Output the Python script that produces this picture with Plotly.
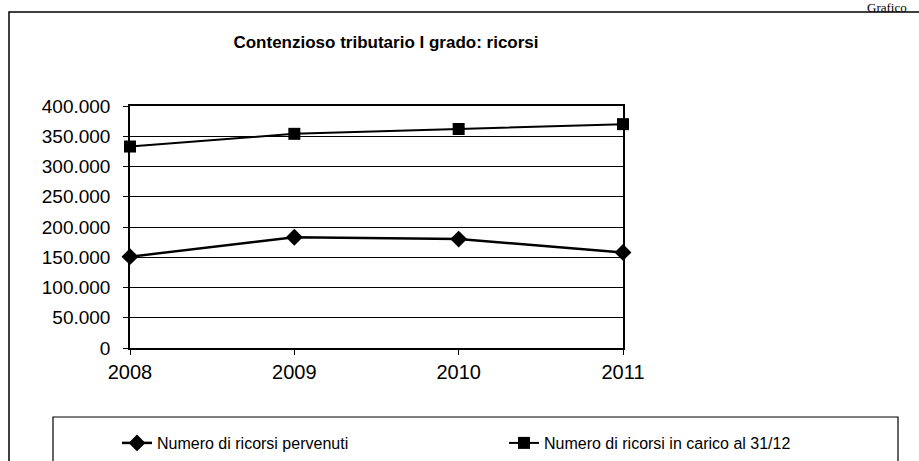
import plotly.graph_objects as go

years = ["2008", "2009", "2010", "2011"]
pervenuti = [151000, 183000, 180000, 158000]
in_carico = [333000, 354000, 362000, 370000]
series_names = ["Numero di ricorsi pervenuti", "Numero di ricorsi in carico al 31/12"]
title_text = "Contenzioso tributario I grado: ricorsi"

W, H = 919, 461
L, R, T, B = 130, 623, 106, 348

def px_x(p):
    return (p - L) / (R - L)

def px_y(p):
    return (B - p) / (B - T)

FONT = "Liberation Sans, Arial, sans-serif"

fig = go.Figure()
fig.add_trace(go.Scatter(
    x=years, y=pervenuti, name=series_names[0], mode="lines+markers",
    line=dict(color="black", width=2.5),
    marker=dict(symbol="diamond", size=13, color="black"),
    cliponaxis=False, legend="legend",
))
fig.add_trace(go.Scatter(
    x=years, y=in_carico, name=series_names[1], mode="lines+markers",
    line=dict(color="black", width=2),
    marker=dict(symbol="square", size=12, color="black"),
    cliponaxis=False, legend="legend2",
))

shapes = [
    dict(type="rect", xref="paper", yref="paper",
         x0=px_x(9), x1=px_x(940), y0=px_y(480), y1=px_y(12),
         line=dict(color="black", width=1.5), layer="below"),
    dict(type="rect", xref="paper", yref="paper",
         x0=px_x(53), x1=px_x(898), y0=px_y(480), y1=px_y(417),
         line=dict(color="black", width=1.2), layer="below"),
]

legend_common = dict(orientation="h", xanchor="left", yanchor="middle",
                     bgcolor="rgba(0,0,0,0)", borderwidth=0,
                     font=dict(family=FONT, size=16, color="black"))

fig.update_layout(
    width=W, height=H,
    margin=dict(l=L, r=W - R, t=T, b=H - B, autoexpand=False),
    paper_bgcolor="white", plot_bgcolor="white",
    separators=",.",
    showlegend=True,
    title=dict(text="<b>" + title_text + "</b>", xref="container", x=386 / W,
               xanchor="center", yref="container", y=1 - 42 / H, yanchor="middle",
               font=dict(family=FONT, size=17, color="black")),
    xaxis=dict(type="category", range=[0, 3], showgrid=False,
               showline=True, linecolor="black", linewidth=1.5, mirror=True,
               ticks="outside", ticklen=5, tickcolor="black",
               tickfont=dict(family=FONT, size=20, color="black")),
    yaxis=dict(range=[0, 400000], dtick=50000, tickformat=",d",
               showgrid=True, gridcolor="black", gridwidth=1,
               showline=True, linecolor="black", linewidth=1.5, mirror=True,
               ticks="outside", ticklen=5, tickcolor="black",
               ticklabelstandoff=9,
               tickfont=dict(family=FONT, size=19, color="black"),
               zeroline=False),
    legend=dict(x=px_x(117), y=px_y(443), **legend_common),
    legend2=dict(x=px_x(504), y=px_y(443), **legend_common),
    shapes=shapes,
    annotations=[dict(text="Grafico", xref="paper", yref="paper",
                      x=px_x(908), xanchor="right", y=px_y(16), yanchor="bottom",
                      showarrow=False, borderpad=0,
                      font=dict(family="Liberation Serif, Times New Roman, serif",
                                size=13, color="black"))],
)

fig.write_html("out.html", config={"displayModeBar": False},
               post_script="document.body.style.margin='0';document.body.style.padding='0';")
